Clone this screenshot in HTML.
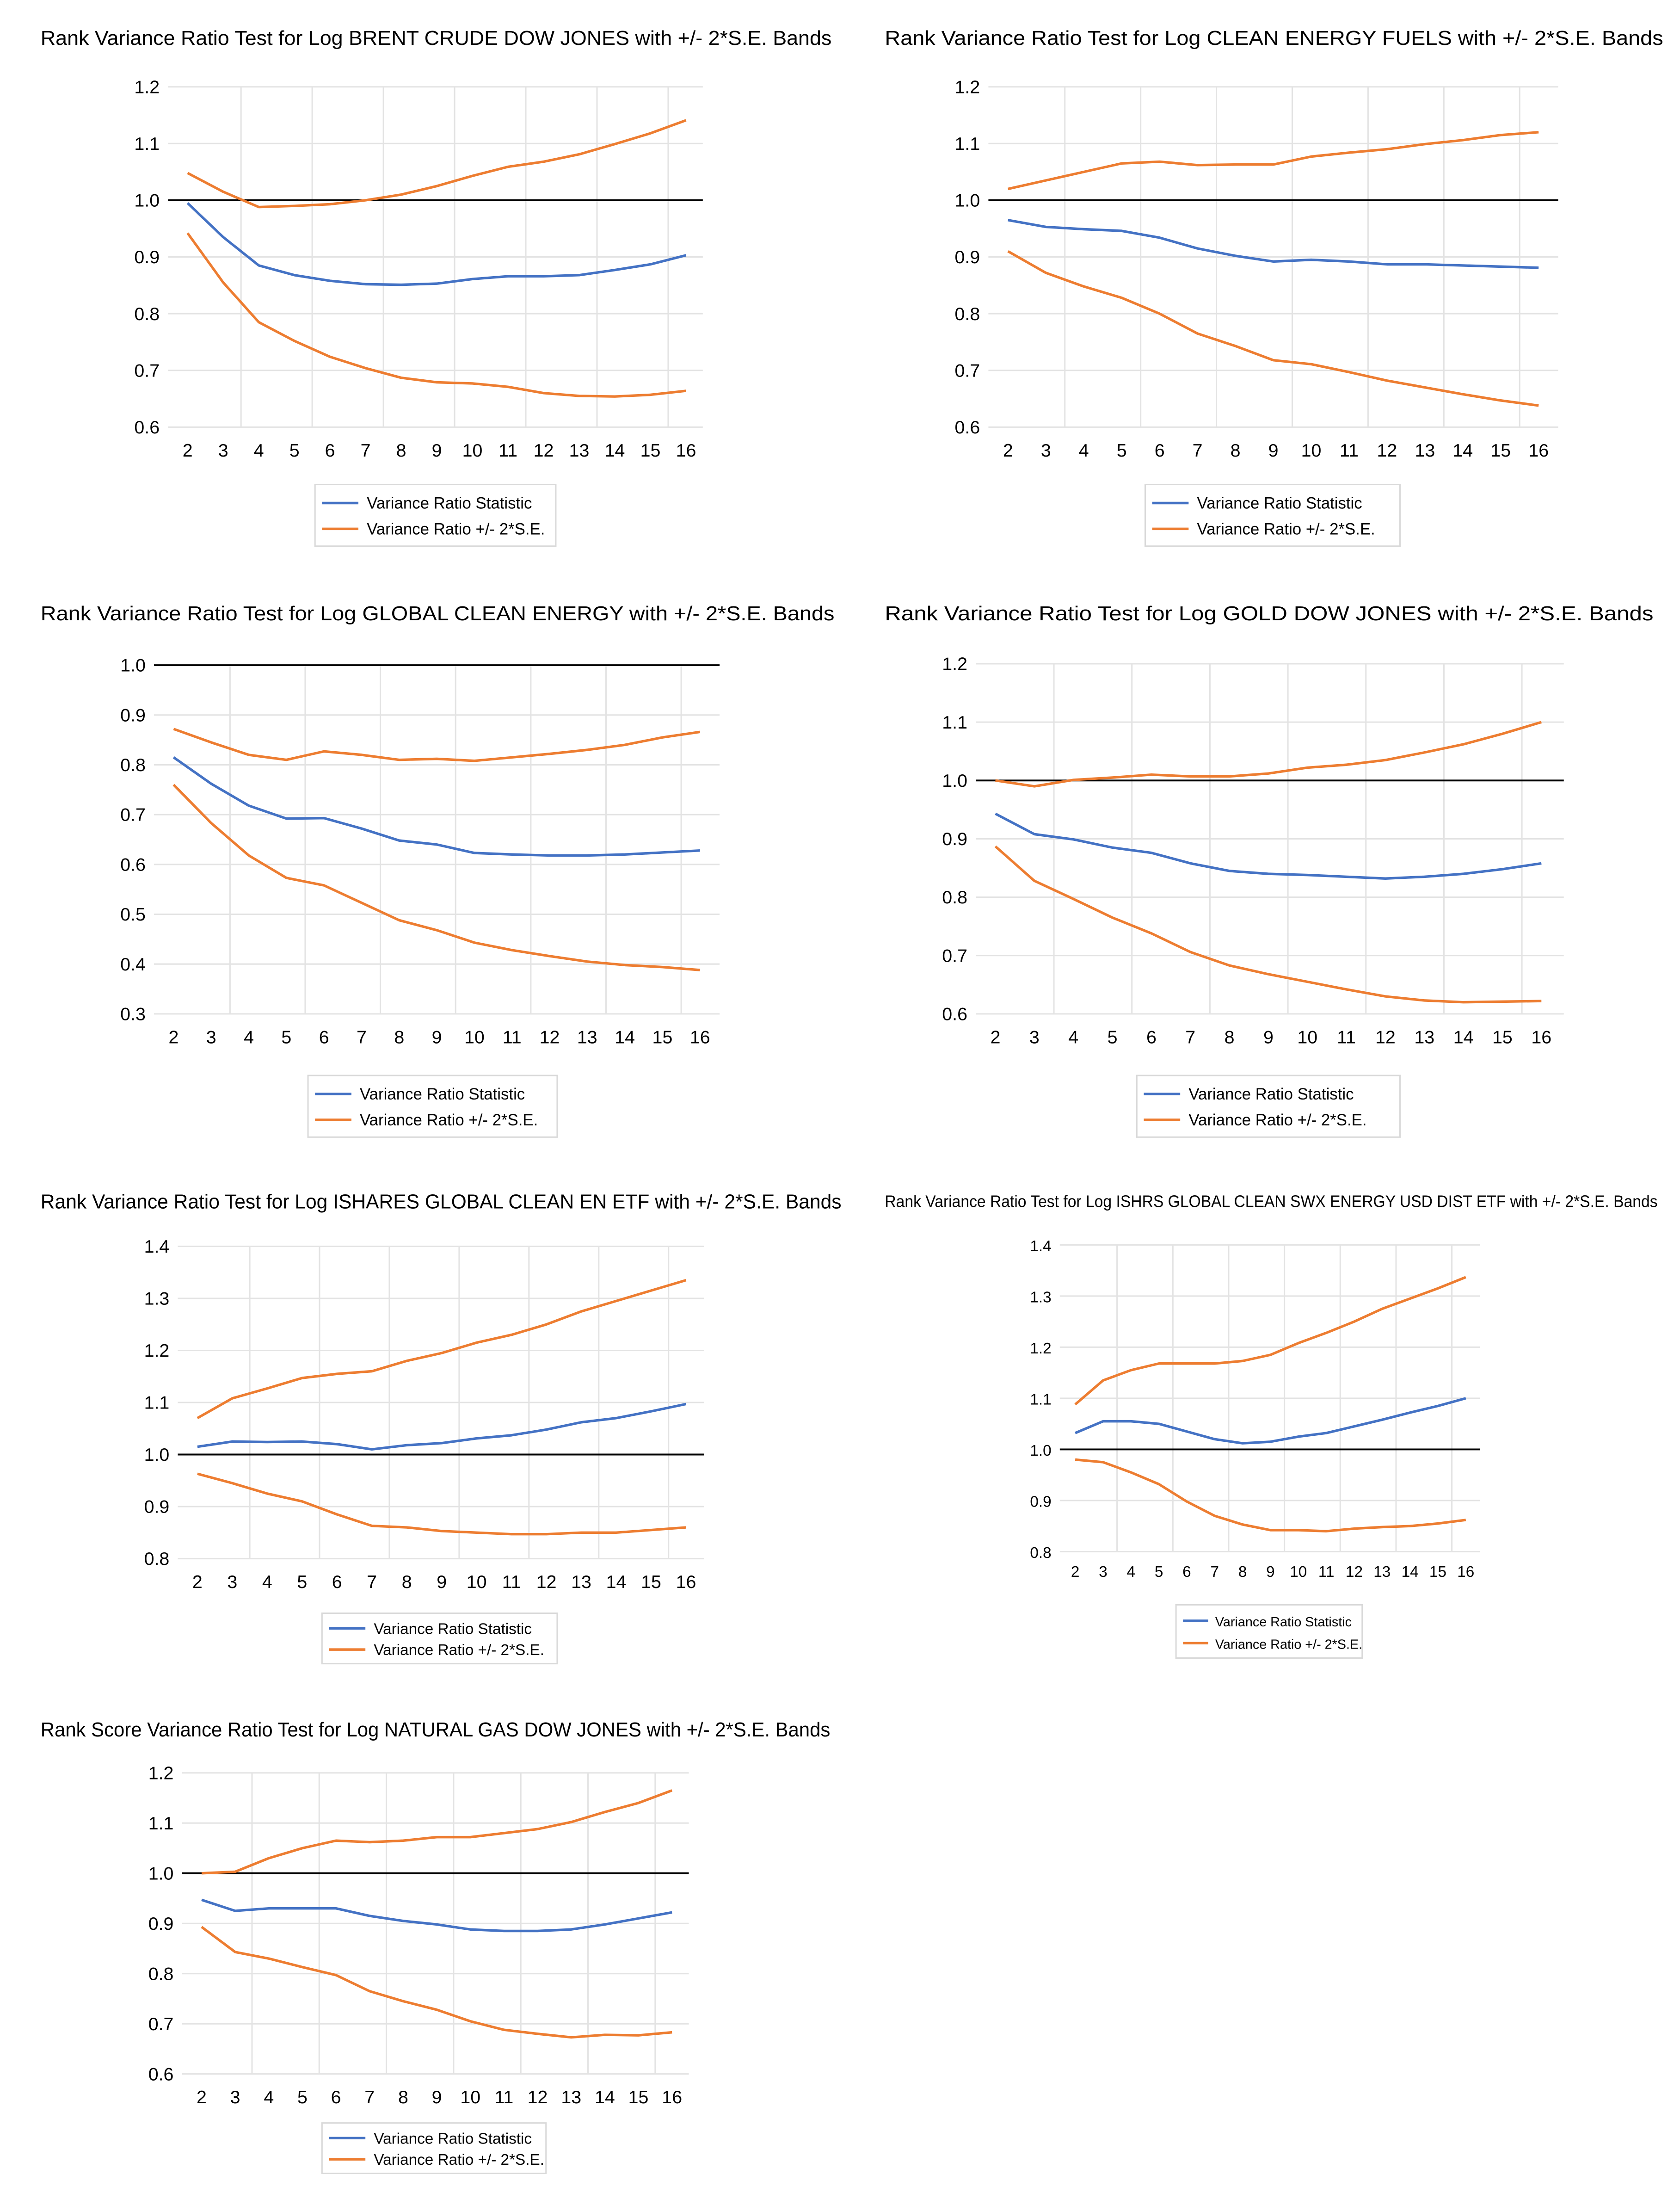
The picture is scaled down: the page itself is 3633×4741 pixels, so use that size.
<!DOCTYPE html>
<html><head><meta charset="utf-8"><style>
html,body{margin:0;padding:0;background:#fff;}
svg{display:block;}
text{font-family:"Liberation Sans",sans-serif;fill:#000;}
</style></head><body>
<svg id="root" xmlns="http://www.w3.org/2000/svg" width="3633" height="4741" viewBox="0 0 1200 1566" preserveAspectRatio="none">
<rect width="1200" height="1566" fill="#fff"/>
</svg>
<script>
const categories = [2,3,4,5,6,7,8,9,10,11,12,13,14,15,16];

const c1Blue  = [0.995,0.935,0.885,0.868,0.858,0.852,0.851,0.853,0.861,0.866,0.866,0.868,0.877,0.887,0.903];
const c1Upper = [1.048,1.015,0.988,0.990,0.993,1.000,1.010,1.025,1.043,1.059,1.068,1.081,1.099,1.118,1.141];
const c1Lower = [0.942,0.855,0.785,0.752,0.724,0.704,0.687,0.679,0.677,0.671,0.660,0.655,0.654,0.657,0.664];
const c1Ticks = [1.2,1.1,1.0,0.9,0.8,0.7,0.6];

const c2Blue  = [0.965,0.953,0.949,0.946,0.934,0.915,0.902,0.892,0.895,0.892,0.887,0.887,0.885,0.883,0.881];
const c2Upper = [1.020,1.035,1.050,1.065,1.068,1.062,1.063,1.063,1.077,1.084,1.090,1.099,1.106,1.115,1.120];
const c2Lower = [0.910,0.872,0.848,0.828,0.800,0.765,0.743,0.718,0.711,0.697,0.682,0.670,0.658,0.647,0.638];
const c2Ticks = [1.2,1.1,1.0,0.9,0.8,0.7,0.6];

const c3Blue  = [0.815,0.762,0.718,0.692,0.693,0.672,0.648,0.640,0.623,0.620,0.618,0.618,0.620,0.624,0.628];
const c3Upper = [0.872,0.845,0.820,0.810,0.827,0.820,0.810,0.812,0.808,0.815,0.822,0.830,0.840,0.855,0.866];
const c3Lower = [0.760,0.683,0.618,0.573,0.558,0.523,0.488,0.468,0.443,0.428,0.416,0.405,0.398,0.394,0.388];
const c3Ticks = [1.0,0.9,0.8,0.7,0.6,0.5,0.4,0.3];

const c4Blue  = [0.943,0.908,0.899,0.885,0.876,0.858,0.845,0.840,0.838,0.835,0.832,0.835,0.840,0.848,0.858];
const c4Upper = [1.000,0.990,1.001,1.005,1.010,1.007,1.007,1.012,1.022,1.027,1.035,1.048,1.062,1.080,1.100];
const c4Lower = [0.887,0.828,0.797,0.765,0.738,0.706,0.683,0.668,0.655,0.642,0.630,0.623,0.620,0.621,0.622];
const c4Ticks = [1.2,1.1,1.0,0.9,0.8,0.7,0.6];

const c5Blue  = [1.015,1.025,1.024,1.025,1.020,1.010,1.018,1.022,1.031,1.037,1.048,1.062,1.070,1.083,1.097];
const c5Upper = [1.070,1.108,1.127,1.147,1.155,1.160,1.180,1.195,1.215,1.230,1.250,1.275,1.295,1.315,1.335];
const c5Lower = [0.963,0.945,0.925,0.910,0.885,0.863,0.860,0.853,0.850,0.847,0.847,0.850,0.850,0.855,0.860];
const c5Ticks = [1.4,1.3,1.2,1.1,1.0,0.9,0.8];

const c6Blue  = [1.032,1.055,1.055,1.050,1.035,1.020,1.012,1.015,1.025,1.032,1.045,1.058,1.072,1.085,1.100];
const c6Upper = [1.088,1.135,1.155,1.168,1.168,1.168,1.173,1.185,1.208,1.228,1.250,1.275,1.295,1.315,1.337];
const c6Lower = [0.980,0.975,0.955,0.932,0.898,0.870,0.853,0.842,0.842,0.840,0.845,0.848,0.850,0.855,0.862];
const c6Ticks = [1.4,1.3,1.2,1.1,1.0,0.9,0.8];

const c7Blue  = [0.947,0.925,0.930,0.930,0.930,0.915,0.905,0.898,0.888,0.885,0.885,0.888,0.898,0.910,0.922];
const c7Upper = [1.000,1.003,1.030,1.050,1.065,1.062,1.065,1.072,1.072,1.080,1.088,1.102,1.122,1.140,1.165];
const c7Lower = [0.893,0.843,0.830,0.813,0.797,0.765,0.745,0.728,0.705,0.688,0.680,0.673,0.678,0.677,0.683];
const c7Ticks = [1.2,1.1,1.0,0.9,0.8,0.7,0.6];

const titles = [
 "Rank Variance Ratio Test for Log BRENT CRUDE DOW JONES with +/- 2*S.E. Bands",
 "Rank Variance Ratio Test for Log CLEAN ENERGY FUELS with +/- 2*S.E. Bands",
 "Rank Variance Ratio Test for Log GLOBAL CLEAN ENERGY with +/- 2*S.E. Bands",
 "Rank Variance Ratio Test for Log GOLD DOW JONES with +/- 2*S.E. Bands",
 "Rank Variance Ratio Test for Log ISHARES GLOBAL CLEAN EN ETF with +/- 2*S.E. Bands",
 "Rank Variance Ratio Test for Log ISHRS GLOBAL CLEAN SWX ENERGY USD DIST ETF with +/- 2*S.E. Bands",
 "Rank Score Variance Ratio Test for Log NATURAL GAS DOW JONES with +/- 2*S.E. Bands"
];

const NS="http://www.w3.org/2000/svg";
const root=document.getElementById('root');
function mk(tag,attrs,parent){const e=document.createElementNS(NS,tag);for(const k in attrs)e.setAttribute(k,attrs[k]);(parent||root).appendChild(e);return e;}

const layouts=[
 {blue:c1Blue,up:c1Upper,lo:c1Lower,ticks:c1Ticks,tx:29,ty:32,tw:565,fs:14.5,yTop:62,yBot:305,x2:134,x16:490,pl:120,pr:502,lx:225,ly:346,lw:172,lh:44,lfs:11.5},
 {blue:c2Blue,up:c2Upper,lo:c2Lower,ticks:c2Ticks,tx:632,ty:32,tw:556,fs:14.5,yTop:62,yBot:305,x2:720,x16:1099,pl:706,pr:1113,lx:818,ly:346,lw:182,lh:44,lfs:11.5},
 {blue:c3Blue,up:c3Upper,lo:c3Lower,ticks:c3Ticks,tx:29,ty:443,tw:567,fs:14.5,yTop:475,yBot:724,x2:124,x16:500,pl:110,pr:514,lx:220,ly:768,lw:178,lh:44,lfs:11.5},
 {blue:c4Blue,up:c4Upper,lo:c4Lower,ticks:c4Ticks,tx:632,ty:443,tw:549,fs:14.5,yTop:474,yBot:724,x2:711,x16:1101,pl:697,pr:1117,lx:812,ly:768,lw:188,lh:44,lfs:11.5},
 {blue:c5Blue,up:c5Upper,lo:c5Lower,ticks:c5Ticks,tx:29,ty:863,tw:572,fs:14.5,yTop:890,yBot:1113,x2:141,x16:490,pl:127,pr:503,lx:230,ly:1152,lw:168,lh:36,lfs:11},
 {blue:c6Blue,up:c6Upper,lo:c6Lower,ticks:c6Ticks,tx:632,ty:862,tw:552,fs:12,yTop:889,yBot:1108,x2:768,x16:1047,pl:757,pr:1057,lx:840,ly:1146,lw:133,lh:38,lfs:9.5},
 {blue:c7Blue,up:c7Upper,lo:c7Lower,ticks:c7Ticks,tx:29,ty:1240,tw:564,fs:14.5,yTop:1266,yBot:1481,x2:144,x16:480,pl:130,pr:492,lx:230,ly:1516,lw:160,lh:36,lfs:11}
];

layouts.forEach((L,ci)=>{
 const g=mk('g',{});
 
 
 const yMax=L.ticks[0], yMin=L.ticks[L.ticks.length-1];
 const yS=v=>L.yTop+(yMax-v)/(yMax-yMin)*(L.yBot-L.yTop);
 const step=(L.x16-L.x2)/(categories.length-1);
 const xS=i=>L.x2+i*step;
 const t=mk('text',{x:L.tx,y:L.ty,'font-size':L.fs,textLength:L.tw,lengthAdjust:'spacingAndGlyphs'},g);
 t.textContent=titles[ci];
 
 
 const sm = L.fs<13;
 // horizontal gridlines & y labels
 L.ticks.forEach(v=>{
  const y=yS(v);
  if(Math.abs(v-1)>1e-9){const gl=mk('line',{x1:L.pl,x2:L.pr,y1:y,y2:y,stroke:'#e3e3e3','stroke-width':1},g);
   
   }
  const tl=mk('text',{x:L.pl-6,y:y+4.5,'font-size':sm?11:13,'text-anchor':'end'},g);
  tl.textContent=v.toFixed(1);
  
  
 });
 // vertical gridlines at every other category boundary
 for(let i=1;i<categories.length-1;i+=2){
  const x=xS(i)+step/2;
  const vl=mk('line',{x1:x,x2:x,y1:L.yTop,y2:L.yBot,stroke:'#e3e3e3','stroke-width':1},g);
  
  
 }
 categories.forEach((c,i)=>{
  const xl=mk('text',{x:xS(i),y:L.yBot+(sm?18:21),'font-size':sm?11:13,'text-anchor':'middle'},g);
  xl.textContent=c;
  
  
 });
 // reference line at 1.0
 const rl=mk('line',{x1:L.pl,x2:L.pr,y1:yS(1),y2:yS(1),stroke:'#000','stroke-width':1.3},g);
 
 
 const series=[[L.up,'#ED7D31','upper-band-line'],[L.lo,'#ED7D31','lower-band-line'],[L.blue,'#4472C4','variance-ratio-line']];
 series.forEach(s=>{
  const pts=s[0].map((v,i)=>xS(i).toFixed(2)+','+yS(v).toFixed(2)).join(' ');
  const pl=mk('polyline',{points:pts,fill:'none',stroke:s[1],'stroke-width':1.8,'stroke-linejoin':'round'},g);
  
  
 });
 // legend
 const lg=mk('g',{},g);
 
 
 mk('rect',{x:L.lx,y:L.ly,width:L.lw,height:L.lh,fill:'#fff',stroke:'#d9d9d9','stroke-width':1},lg);
 const entries=[['Variance Ratio Statistic','#4472C4'],['Variance Ratio +/- 2*S.E.','#ED7D31']];
 entries.forEach((e,k)=>{
  const yy=L.ly+L.lh*(k===0?0.3:0.72);
  const eg=mk('g',{},lg);
  
  
  mk('line',{x1:L.lx+5,x2:L.lx+(sm?23:31),y1:yy,y2:yy,stroke:e[1],'stroke-width':1.8},eg);
  const et=mk('text',{x:L.lx+(sm?28:37),y:yy+4,'font-size':L.lfs},eg);
  et.textContent=e[0];
 });
});
</script>
</body></html>
